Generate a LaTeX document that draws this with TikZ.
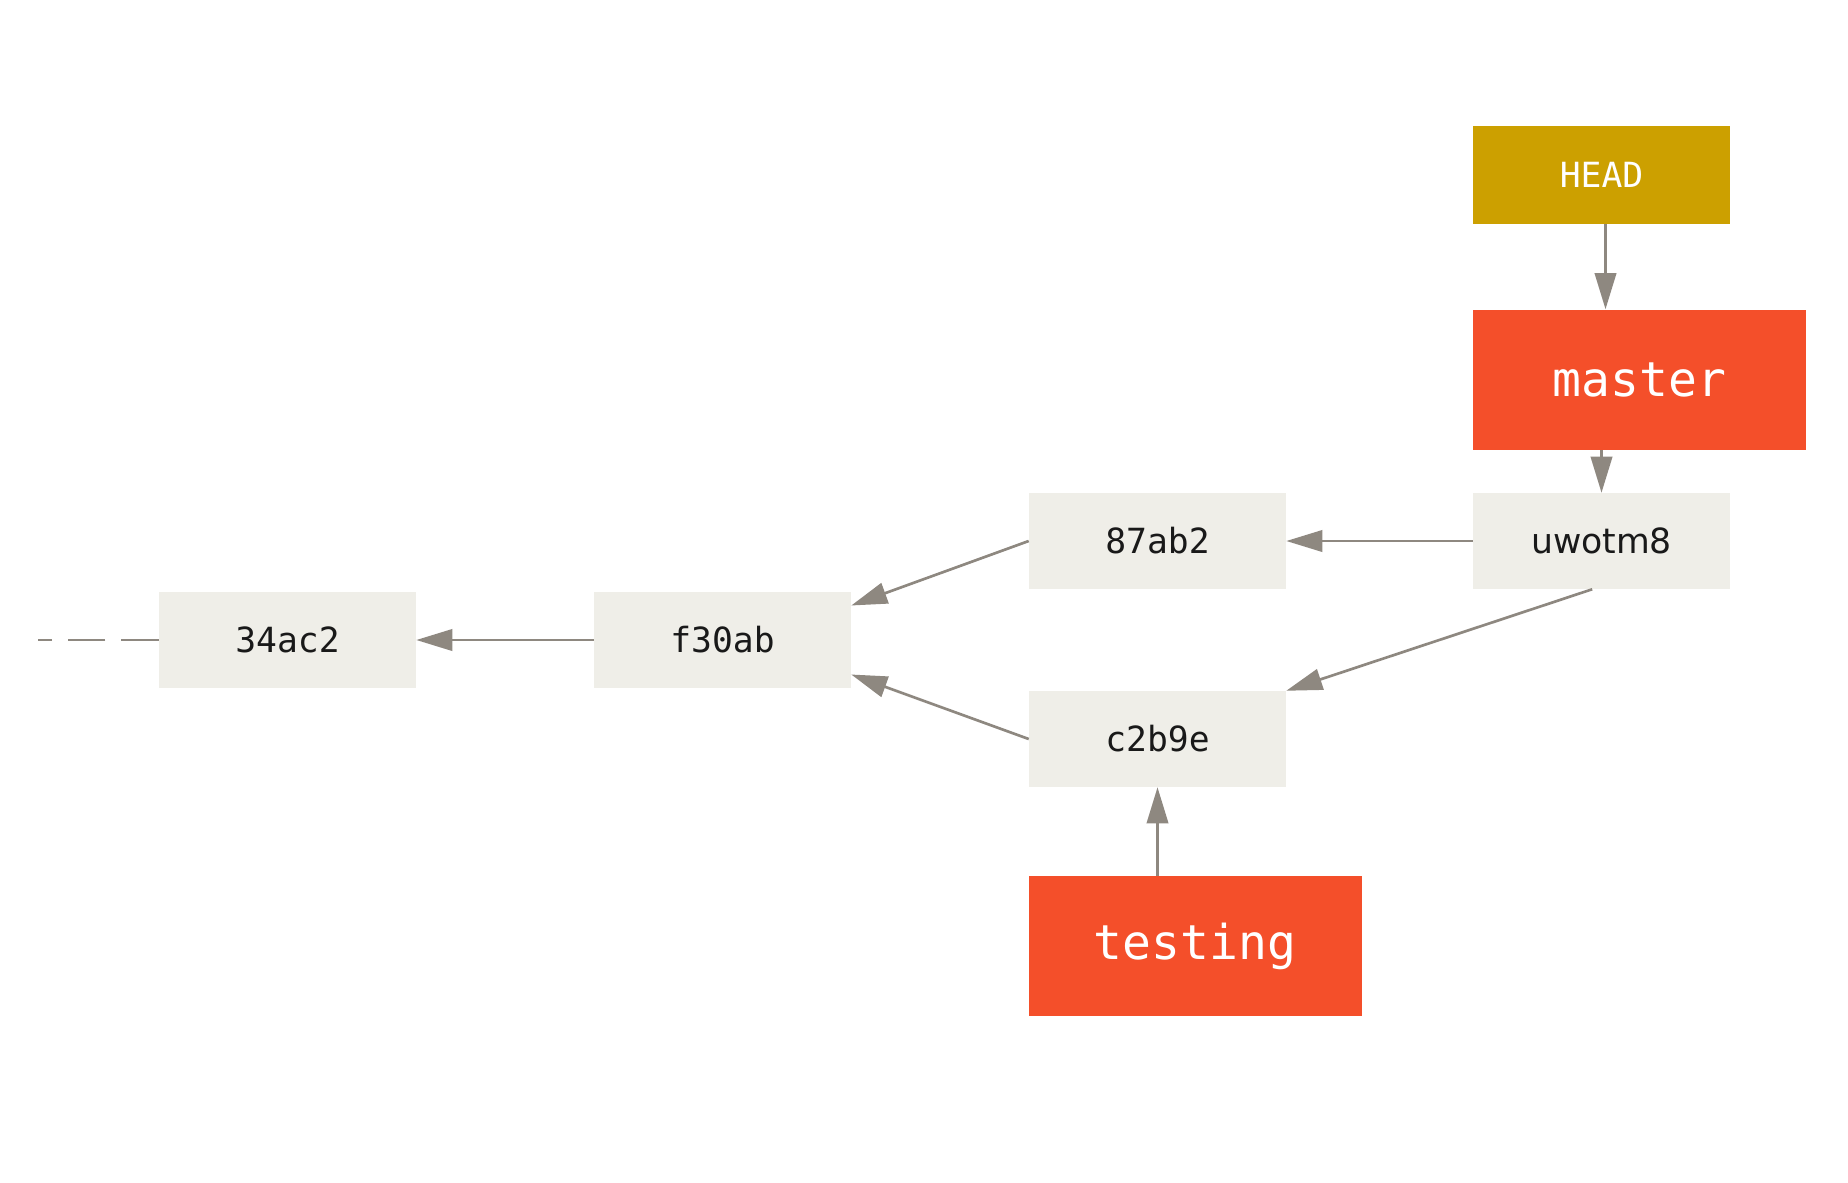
\documentclass[tikz,border=0pt]{standalone}
\usepackage{fontspec}
\setmainfont{DejaVu Sans}
\setmonofont{DejaVu Sans Mono}
\usetikzlibrary{arrows.meta}
\definecolor{commitgray}{RGB}{239,238,232}
\definecolor{branchred}{RGB}{244,79,42}
\definecolor{headgold}{RGB}{204,160,0}
\definecolor{arrowgray}{RGB}{142,136,128}
\definecolor{inkblack}{RGB}{25,25,25}

\begin{document}
\begin{tikzpicture}[x=0.75pt,y=0.75pt,yscale=-1,xscale=1,
    commit/.style={fill=commitgray, text=inkblack, minimum width=192.75pt, minimum height=72pt, inner sep=0pt, font=\ttfamily\fontsize{26}{30}\selectfont},
    branch/.style={fill=branchred, text=white, minimum width=249.75pt, minimum height=105pt, inner sep=0pt, font=\ttfamily\fontsize{36}{40}\selectfont},
    headref/.style={fill=headgold, text=white, minimum width=192.75pt, minimum height=73.5pt, inner sep=0pt, font=\ttfamily\fontsize{26}{30}\selectfont},
    parent/.style={draw=arrowgray, line width=2pt, -{Triangle[length=27pt,width=16pt]}}]
        %set diagram size: 1848 x 1182
        \useasboundingbox (0,0) rectangle (1848,1182);

        % Ref Node
        \draw (1601.5,175) node [headref] (head) {HEAD};
        % Branch Node
        \draw (1639.5,379.5) node [branch] (master) {master};
        % Commit Node
        \draw (1601.5,541) node [commit, font=\fontsize{26}{30}\selectfont] (uwotm8) {uwotm8};
        % Commit Node
        \draw (1157.5,541) node [commit] (87ab2) {87ab2};
        % Commit Node
        \draw (1157.5,739) node [commit] (c2b9e) {c2b9e};
        % Branch Node
        \draw (1195,946) node [branch] (testing) {testing};
        % Commit Node
        \draw (722.5,640) node [commit] (f30ab) {f30ab};
        % Commit Node
        \draw (287.5,640) node [commit] (34ac2) {34ac2};
        \coordinate (tail) at (38,640);

        %Straight Lines
        \draw [parent] ([xshift=3pt]head.south) -- ([xshift=3pt]head.south |- master.north);
        \draw [parent] (master.south -| uwotm8.north) -- (uwotm8.north);
        \draw [parent] (uwotm8.west) -- (87ab2.east);
        \draw [parent] ([xshift=-7pt]uwotm8.south) -- (c2b9e.north east);
        \draw [parent] (87ab2.west) -- (f30ab.15);
        \draw [parent] (c2b9e.west) -- (f30ab.-15);
        \draw [parent] (testing.north -| c2b9e.south) -- (c2b9e.south);
        \draw [parent] (f30ab.west) -- (34ac2.east);
        %Dashed Line
        \draw [draw=arrowgray, line width=2pt, dash pattern={on 28pt off 12pt}] (34ac2.west) -- (tail);

    \end{tikzpicture}
\end{document}
